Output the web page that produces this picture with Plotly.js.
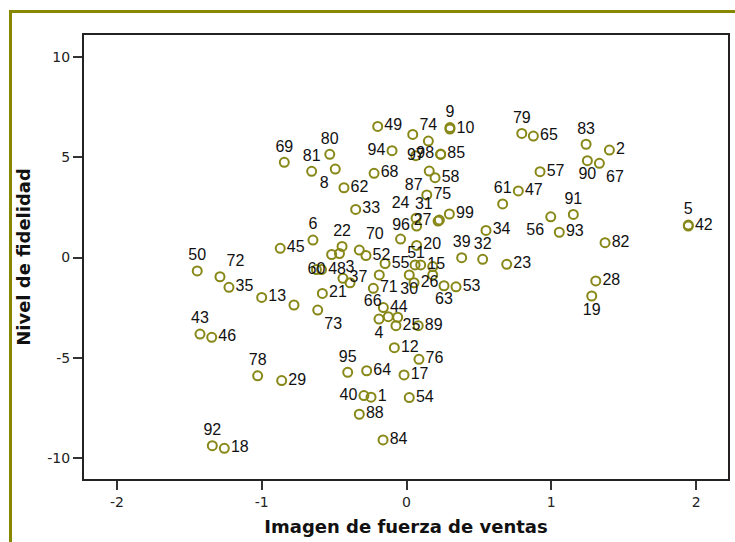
<!DOCTYPE html>
<html>
<head>
<meta charset="utf-8">
<script src="https://cdn.plot.ly/plotly-3.0.1.min.js"></script>
<style>
  html, body { margin: 0; padding: 0; background: #ffffff; overflow: hidden; }
  #frame { position: absolute; left: 9px; top: 10px; width: 760px; height: 600px;
           border: 3px solid #878700; box-sizing: border-box; }
  #chart { position: absolute; left: 0; top: 0; width: 735px; height: 542px; }
</style>
</head>
<body>
<div id="frame"></div>
<div id="chart"></div>
<script>
// Case labels (case numbers) for each point
const caseLabels = [
  "69","81","80","8","62","6","45","50","72","35",
  "13","","60","48","37","3","21","73","22","",
  "","70","52","55","","71","30","26","","15",
  "","","63","53","44","66","4","","25","89",
  "12","76","17","54","84","95","64","40","1","88",
  "43","46","78","29","92","18","49","","74","9",
  "10","94","97","98","85","68","87","58","75","33",
  "24","96","31","27","99","51","20","39","32","34",
  "23","61","47","79","65","57","83","2","90","67",
  "91","56","93","82","28","19","5","42"
];
// Imagen de fuerza de ventas (x)
const salesImage = [
  -0.844,-0.655,-0.530,-0.492,-0.432,-0.646,-0.872,-1.445,-1.288,-1.226,
  -1.000,-0.777,-0.622,-0.587,-0.439,-0.390,-0.581,-0.613,-0.445,-0.517,
  -0.463,-0.326,-0.280,-0.148,-0.188,-0.229,0.019,0.052,0.059,0.098,
  0.181,0.181,0.259,0.342,-0.160,-0.126,-0.190,-0.061,-0.073,0.081,
  -0.084,0.086,-0.017,0.019,-0.162,-0.406,-0.275,-0.294,-0.245,-0.326,
  -1.426,-1.345,-1.028,-0.862,-1.341,-1.258,-0.199,0.043,0.151,0.300,
  0.300,-0.100,0.064,0.236,0.236,-0.224,0.157,0.197,0.140,-0.351,
  0.066,0.070,0.227,0.218,0.296,-0.041,0.070,0.381,0.526,0.549,
  0.692,0.664,0.772,0.796,0.876,0.922,1.240,1.401,1.249,1.332,
  1.152,0.996,1.055,1.371,1.307,1.279,1.946,1.946
];
// Nivel de fidelidad (y)
const loyalty = [
  4.75,4.30,5.15,4.41,3.48,0.87,0.46,-0.67,-0.96,-1.49,
  -1.99,-2.37,-0.60,-0.60,-1.04,-1.26,-1.79,-2.62,0.55,0.15,
  0.20,0.37,0.10,-0.30,-0.87,-1.54,-0.87,-1.26,-0.37,-0.37,
  -0.45,-0.87,-1.41,-1.46,-2.50,-2.95,-3.07,-2.98,-3.40,-3.40,
  -4.50,-5.08,-5.86,-6.99,-9.10,-5.73,-5.65,-6.89,-6.97,-7.82,
  -3.82,-3.98,-5.90,-6.14,-9.39,-9.52,6.54,6.14,5.81,6.48,
  6.41,5.33,5.08,5.14,5.16,4.20,4.31,3.98,3.12,2.40,
  1.96,1.57,1.87,1.82,2.17,0.92,0.60,-0.01,-0.09,1.35,
  -0.34,2.67,3.32,6.19,6.06,4.28,5.65,5.36,4.83,4.70,
  2.15,2.03,1.26,0.74,-1.17,-1.92,1.62,1.57
];
// Where each case label sits relative to its point (styling only)
const labelPlacement = [
  "top center","top center","top center","bottom left","middle right","top center","middle right","top center","top right","middle right",
  "middle right","middle right","middle center","middle right","middle right","top center","middle right","bottom right","top center","middle right",
  "middle right","top right","middle right","middle right","middle right","middle right","bottom center","middle right","middle right","middle right",
  "middle right","middle right","bottom center","middle right","middle right","top left","bottom center","middle right","middle right","middle right",
  "middle right","middle right","middle right","middle right","middle right","top center","middle right","middle left","middle right","middle right",
  "top center","middle right","top center","middle right","top center","middle right","middle right","middle right","top center","top center",
  "middle right","middle left","middle center","middle left","middle right","middle right","bottom left","middle right","middle right","middle right",
  "top left","middle left","top left","middle left","middle right","bottom right","middle right","top center","top center","middle right",
  "middle right","top center","middle right","top center","middle right","middle right","top center","middle right","bottom center","bottom right",
  "top center","bottom left","middle right","middle right","middle right","bottom center","top center","middle right"
];

const olive = '#888819';
const trace = {
  type: 'scatter',
  mode: 'markers+text',
  x: salesImage,
  y: loyalty,
  text: caseLabels,
  textposition: labelPlacement,
  textfont: { family: 'Liberation Sans, Arial, sans-serif', size: 16, color: '#111111' },
  marker: { symbol: 'circle-open', size: 9, color: olive, line: { color: olive, width: 2 } },
  cliponaxis: false,
  hoverinfo: 'none'
};

const axisCommon = {
  showgrid: false,
  zeroline: false,
  showline: true,
  mirror: true,
  linecolor: '#222222',
  linewidth: 2,
  ticks: 'outside',
  ticklen: 9,
  tickwidth: 2,
  tickcolor: '#333333',
  tickfont: { family: 'DejaVu Sans, sans-serif', size: 14, color: '#222222' }
};

const layout = {
  width: 735,
  height: 542,
  margin: { l: 84, r: 7, t: 35, b: 63 },
  paper_bgcolor: 'rgba(0,0,0,0)',
  plot_bgcolor: '#ffffff',
  showlegend: false,
  xaxis: Object.assign({}, axisCommon, {
    range: [-2.227, 2.22],
    tickvals: [-2, -1, 0, 1, 2],
    ticktext: ['-2', '-1', '0', '1', '2'],
    title: { text: 'Imagen de fuerza de ventas', standoff: 12,
             font: { family: 'DejaVu Sans, sans-serif', size: 18, color: '#111111', weight: 'bold' } }
  }),
  yaxis: Object.assign({}, axisCommon, {
    range: [-11.05, 11.1],
    tickvals: [-10, -5, 0, 5, 10],
    ticktext: ['-10', '-5', '0', '5', '10'],
    title: { text: 'Nivel de fidelidad', standoff: 12,
             font: { family: 'DejaVu Sans, sans-serif', size: 18, color: '#111111', weight: 'bold' } }
  })
};

Plotly.newPlot('chart', [trace], layout, { staticPlot: true, displayModeBar: false });
</script>
</body>
</html>
